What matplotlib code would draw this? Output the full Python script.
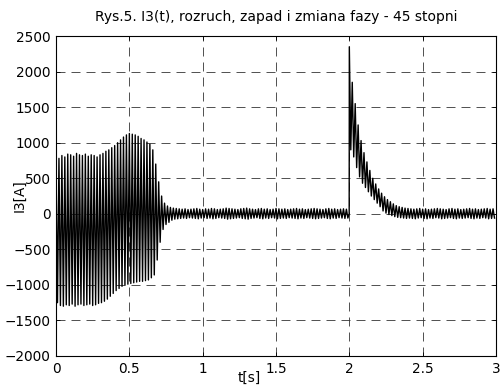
import numpy as np
import matplotlib.pyplot as plt

# peak values, one positive and one negative peak per 20 ms cycle
# start-up 0 .. 0.76 s
up_start = [650, 780, 820, 800, 840, 830, 810, 850, 830, 820,
            840, 810, 830, 820, 800, 830, 850, 880, 900, 930,
            960, 1000, 1040, 1080, 1110, 1130, 1120, 1110, 1090, 1060,
            1040, 1010, 980, 900, 700, 450, 250, 150]
lo_start = [-1250, -1290, -1300, -1280, -1290, -1270, -1300, -1280, -1270, -1290,
            -1280, -1270, -1290, -1280, -1260, -1250, -1230, -1200, -1160, -1120,
            -1080, -1050, -1020, -1000, -990, -980, -970, -960, -950, -950,
            -940, -930, -900, -860, -650, -400, -220, -150]
# steady 0.76 .. 2.0 s
up_mid = [110, 90, 80, 75, 70, 65, 70, 60, 65, 70,
          75, 65, 60, 70, 65, 75, 70, 60, 65, 70,
          80, 75, 70, 65, 60, 70, 75, 80, 70, 65,
          60, 70, 75, 65, 70, 60, 65, 75, 70, 65,
          70, 60, 65, 70, 75, 65, 70, 60, 65, 70,
          75, 70, 65, 60, 70, 75, 65, 70, 60, 65,
          70, 65]
lo_mid = [-120, -90, -75, -70, -65, -60, -65, -55, -60, -65,
          -70, -60, -55, -65, -60, -70, -65, -55, -60, -65,
          -75, -70, -65, -60, -55, -65, -70, -75, -65, -60,
          -55, -65, -70, -60, -65, -55, -60, -70, -65, -60,
          -65, -55, -60, -65, -70, -60, -65, -55, -60, -65,
          -70, -65, -60, -55, -65, -70, -60, -65, -55, -60,
          -65, -60]
# sag and phase change 2.0 .. 3.0 s
up_end = [2350, 1850, 1550, 1250, 1030, 860, 730, 610, 500, 420,
          350, 290, 240, 200, 170, 140, 115, 100, 90, 80,
          75, 70, 65, 70, 75, 65, 70, 60, 65, 70,
          75, 70, 65, 60, 70, 75, 65, 70, 60, 65,
          70, 75, 65, 70, 60, 65, 70, 75, 65, 70]
lo_end = [900, 800, 650, 520, 430, 370, 310, 250, 200, 150,
          100, 40, 10, -10, -25, -40, -50, -55, -60, -65,
          -60, -65, -70, -60, -55, -65, -70, -60, -65, -55,
          -60, -70, -65, -60, -55, -65, -70, -60, -65, -60,
          -55, -65, -70, -60, -65, -55, -60, -70, -65, -60]

upper = np.array(up_start + up_mid + up_end, dtype=float)
lower = np.array(lo_start + lo_mid + lo_end, dtype=float)
ncyc = len(upper)
t_up = np.arange(ncyc) * 0.02
t_lo = t_up + 0.01

t = np.empty(2 * ncyc)
i3 = np.empty(2 * ncyc)
t[0::2] = t_up
t[1::2] = t_lo
i3[0::2] = upper
i3[1::2] = lower
# small step before the spike at 2 s
k = int(round(2.0 / 0.01))
t = np.insert(t, k, 1.999)
i3 = np.insert(i3, k, 0.0)

plt.rcParams['font.family'] = ['DejaVu Sans']
plt.rcParams['font.size'] = 9.8

fig = plt.figure(figsize=(5.02, 3.88), dpi=100)
ax = fig.add_axes([0.1116, 0.0825, 0.8764, 0.8245])
ax.plot(t, i3, color='k', lw=1.0)

ax.set_xlim(0, 3)
ax.set_ylim(-2000, 2500)
ax.set_xticks([0, 0.5, 1, 1.5, 2, 2.5, 3])
ax.set_xticklabels(['0', '0.5', '1', '1.5', '2', '2.5', '3'])
ax.set_yticks(np.arange(-2000, 2501, 500))
ax.grid(True, color='0.2', ls=(0, (10.8, 7.2)), lw=0.6)
ax.tick_params(direction='in', top=True, right=True, length=3, width=0.6, pad=4)
for s in ax.spines.values():
    s.set_linewidth(0.8)

ax.set_title('Rys.5. I3(t), rozruch, zapad i zmiana fazy - 45 stopni', fontsize=10, pad=11)
ax.set_xlabel('t[s]')
ax.xaxis.set_label_coords(0.44, -0.045)
ax.set_ylabel('I3[A]')
ax.yaxis.set_label_coords(-0.068, 0.5)

fig.savefig('out.png', dpi=100)
